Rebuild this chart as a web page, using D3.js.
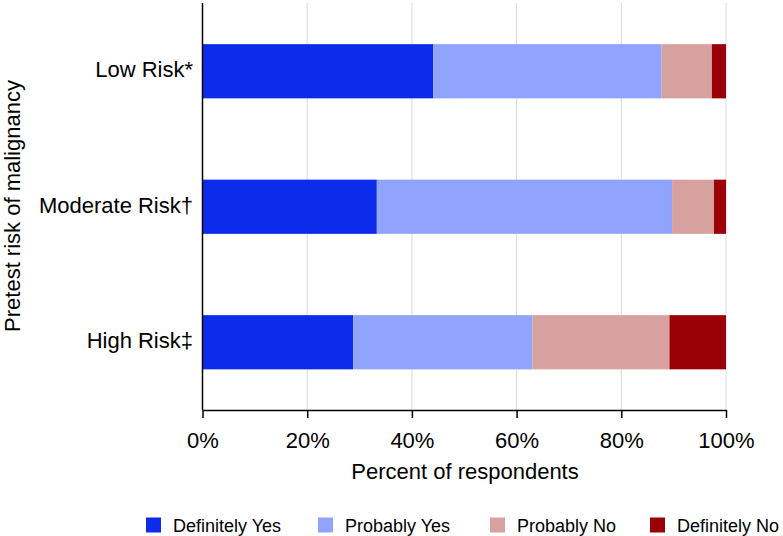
<!DOCTYPE html>
<html><head><meta charset="utf-8">
<script src="https://cdn.jsdelivr.net/npm/d3@7"></script>
<style>body{margin:0;background:#fff}svg{display:block}text{font-family:"Liberation Sans",Arial,Helvetica,sans-serif;fill:#000}</style>
</head><body>
<svg id="c" width="783" height="536"></svg>
<script>
const categories = ["Low Risk*", "Moderate Risk\u2020", "High Risk\u2021"];
const seriesNames = ["Definitely Yes", "Probably Yes", "Probably No", "Definitely No"];
const definitelyYes = [44.1, 33.3, 28.8];
const probablyYes = [43.6, 56.4, 34.2];
const probablyNo = [9.6, 8.0, 26.2];
const definitelyNo = [2.7, 2.3, 10.8];
const xTicks = [0, 20, 40, 60, 80, 100];
const colors = ["#0c2beb", "#90a3fd", "#d6a19f", "#9b0009"];

const rows = categories.map((c, i) => ({
  cat: c,
  "Definitely Yes": definitelyYes[i],
  "Probably Yes": probablyYes[i],
  "Probably No": probablyNo[i],
  "Definitely No": definitelyNo[i]
}));
const stack = d3.stack().keys(seriesNames)(rows);

const svg = d3.select("#c");
const x = d3.scaleLinear().domain([0, 100]).range([202.5, 726]);
const y = d3.scaleBand().domain(categories).range([3.5, 410]).paddingInner(0.6).paddingOuter(0.3);
const FF = '"Liberation Sans",Arial,sans-serif';

// grid
svg.append("g").selectAll("line").data(xTicks.filter(t => t > 0)).join("line")
  .attr("x1", d => x(d)).attr("x2", d => x(d)).attr("y1", 3).attr("y2", 410)
  .attr("stroke", "#d9d9d9").attr("stroke-width", 1);

// bars
svg.append("g").selectAll("g").data(stack).join("g")
  .attr("fill", (d, i) => colors[i])
  .selectAll("rect").data(d => d).join("rect")
  .attr("x", d => x(d[0])).attr("width", d => x(d[1]) - x(d[0]))
  .attr("y", d => y(d.data.cat)).attr("height", y.bandwidth());

// x axis
const xa = svg.append("g").attr("transform", "translate(0,410)")
  .call(d3.axisBottom(x).tickValues(xTicks).tickFormat(d => d + "%").tickSize(8).tickSizeOuter(0).tickPadding(14));
xa.select(".domain").attr("stroke", "#000").attr("stroke-width", 1.5);
xa.selectAll(".tick line").attr("stroke", "#000").attr("stroke-width", 1.5);
xa.selectAll("text").attr("font-size", 22).style("font-family", FF);

// y axis
const ya = svg.append("g").attr("transform", "translate(202.5,0)")
  .call(d3.axisLeft(y).tickSize(0).tickPadding(9.5));
ya.select(".domain").remove();
svg.append("line").attr("x1", 202.5).attr("x2", 202.5).attr("y1", 3).attr("y2", 410)
  .attr("stroke", "#000").attr("stroke-width", 1.5);
ya.selectAll("text").attr("font-size", 22).attr("dy", "0.27em").style("font-family", FF);

// axis titles
svg.append("text").attr("x", 465).attr("y", 479).attr("text-anchor", "middle")
  .attr("font-size", 22).text("Percent of respondents");
svg.append("text").attr("transform", "translate(19.5,206) rotate(-90)").attr("text-anchor", "middle")
  .attr("font-size", 22).text("Pretest risk of malignancy");

// legend
const legX = [146, 318, 490, 650];
const leg = svg.append("g").selectAll("g").data(seriesNames).join("g")
  .attr("transform", (d, i) => `translate(${legX[i]},517.5)`);
leg.append("rect").attr("width", 15).attr("height", 15).attr("fill", (d, i) => colors[i]);
leg.append("text").attr("x", 27).attr("y", 14).attr("font-size", 18).text(d => d);
</script>
</body></html>
